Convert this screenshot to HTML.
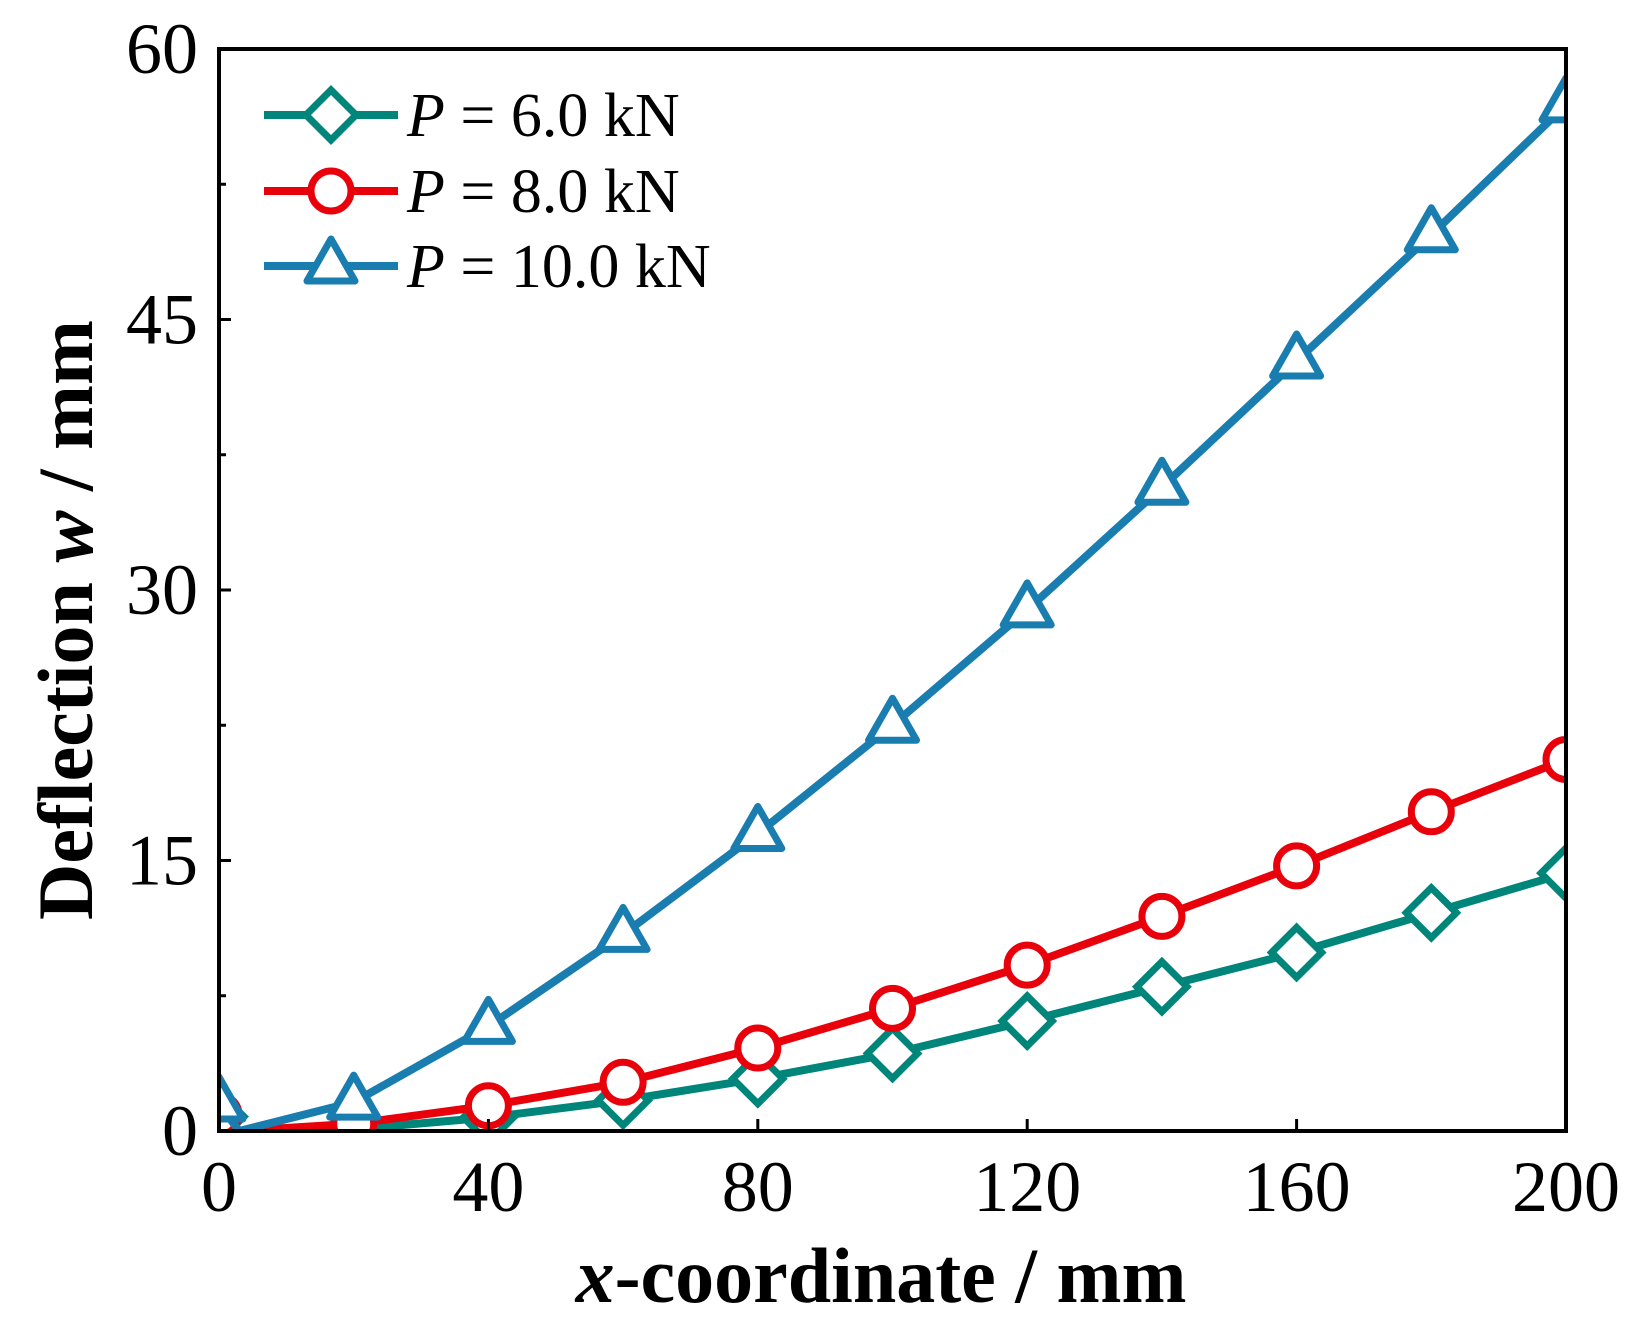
<!DOCTYPE html>
<html><head><meta charset="utf-8"><style>
body{margin:0;background:#fff}
svg text{font-family:"Liberation Serif",serif;fill:#000}
</style></head><body>
<svg id="chart" width="1634" height="1338" viewBox="0 0 1634 1338" xmlns="http://www.w3.org/2000/svg">
<defs><clipPath id="clip"><rect x="219" y="49" width="1347" height="1082"/></clipPath></defs>
<g id="series" clip-path="url(#clip)"></g>
<rect x="219" y="49" width="1347" height="1082" fill="none" stroke="#000" stroke-width="4"/>
<g id="axes"></g>
<text transform="translate(92,620) rotate(-90)" text-anchor="middle" font-size="78" font-weight="bold">Deflection <tspan font-style="italic">w</tspan> / mm</text>
<text x="881" y="1302" text-anchor="middle" font-size="78" font-weight="bold"><tspan font-style="italic">x</tspan>-coordinate / mm</text>
<g id="legend"></g>
</svg>
<script>
const xValues=[0,3,20,40,60,80,100,120,140,160,180,200];
const p6=[0.8,0,0.1,0.75,1.7,2.9,4.3,6.1,8.0,9.9,12.1,14.3];
const p8=[0.9,0,0.4,1.4,2.7,4.6,6.8,9.2,11.9,14.7,17.7,20.6];
const p10=[1.5,0,1.6,5.8,10.9,16.5,22.5,28.9,35.7,42.7,49.7,56.9];
const xTicks=[0,40,80,120,160,200];
const yTicks=[0,15,30,45,60];
const seriesNames=["P = 6.0 kN","P = 8.0 kN","P = 10.0 kN"];
const NS="http://www.w3.org/2000/svg";
const X0=219,X1=1566,Y0=1131,Y1=49;
function sx(v){return X0+(v-0)/(200-0)*(X1-X0);}
function sy(v){return Y0-(v-0)/(60-0)*(Y0-Y1);}
function mk(tag,attrs,parent){const e=document.createElementNS(NS,tag);for(const k in attrs)e.setAttribute(k,attrs[k]);parent.appendChild(e);return e;}
const axes=document.getElementById('axes');
xTicks.forEach(t=>{
 const l=mk('line',{x1:sx(t),x2:sx(t),y1:Y0,y2:Y0-12,stroke:'#000','stroke-width':3},axes);
 
 
 const tx=mk('text',{x:sx(t),y:Y0+80,'text-anchor':'middle','font-size':72},axes);
 tx.textContent=t;
 
 
});
for(let v=0;v<=60;v+=7.5){
 const len=(v%15===0)?12:7;
 const l=mk('line',{x1:X0,x2:X0+len,y1:sy(v),y2:sy(v),stroke:'#000','stroke-width':3},axes);
 
 
}
yTicks.forEach(t=>{
 const tx=mk('text',{x:X0-21,y:sy(t)+24,'text-anchor':'end','font-size':72},axes);
 tx.textContent=t;
 
 
});
const colors=['#00857a','#e8000b','#1a7db0'];
const data=[p6,p8,p10];
const shapes=['diamond','circle','triangle'];
function marker(g,shape,cx,cy,color){
 let e;
 if(shape==='diamond')e=mk('polygon',{points:`${cx},${cy-25} ${cx+25},${cy} ${cx},${cy+25} ${cx-25},${cy}`,fill:'#fff',stroke:color,'stroke-width':7},g);
 else if(shape==='circle')e=mk('circle',{cx:cx,cy:cy,r:20,fill:'#fff',stroke:color,'stroke-width':7},g);
 else e=mk('polygon',{points:`${cx},${cy-27} ${cx+24},${cy+15} ${cx-24},${cy+15}`,fill:'#fff',stroke:color,'stroke-width':7,'stroke-linejoin':'round'},g);
 return e;
}
const sg=document.getElementById('series');
data.forEach((arr,i)=>{
 const g=mk('g',{},sg);
 
 
 const pts=arr.map((v,j)=>sx(xValues[j])+','+sy(v)).join(' ');
 const pl=mk('polyline',{points:pts,fill:'none',stroke:colors[i],'stroke-width':8,'stroke-linejoin':'round'},g);
 
 
 arr.forEach((v,j)=>{
  if(xValues[j]%20!==0)return;
  const m=marker(g,shapes[i],sx(xValues[j]),sy(v),colors[i]);
  
  
 });
});
const lg=document.getElementById('legend');


const rowsY=[115,191,266];
seriesNames.forEach((n,i)=>{
 const g=mk('g',{},lg);
 
 
 mk('line',{x1:264,x2:398,y1:rowsY[i],y2:rowsY[i],stroke:colors[i],'stroke-width':8},g);
 marker(g,shapes[i],331,rowsY[i],colors[i]);
 const t=mk('text',{x:407,y:rowsY[i]+21,'font-size':62},g);
 const parts=n.split(' = ');
 const ts=mk('tspan',{'font-style':'italic'},t);ts.textContent=parts[0];
 const ts2=mk('tspan',{},t);ts2.textContent=' = '+parts[1];
});
</script>
</body></html>
